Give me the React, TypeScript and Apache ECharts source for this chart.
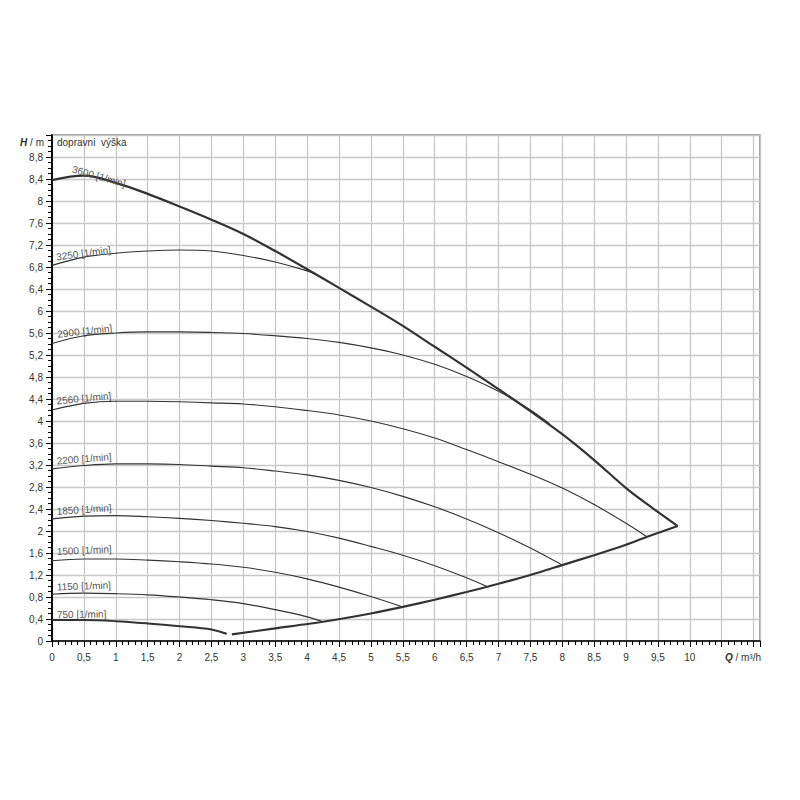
import React, { useEffect, useRef } from "react";
import * as echarts from "echarts";

// ---- data (Q in m³/h, H in m) ----
const speedLabels = ["3600 [1/min]", "3250 [1/min]", "2900 [1/min]", "2560 [1/min]", "2200 [1/min]", "1850 [1/min]", "1500 [1/min]", "1150 [1/min]", "750 [1/min]"];

const q3600 = [0, 0.5, 1, 1.5, 2, 2.5, 3, 3.5, 4, 4.5, 5, 5.5, 6, 6.5, 7, 7.5, 8, 8.5, 9, 9.4, 9.81];
const h3600 = [8.38, 8.46, 8.33, 8.13, 7.9, 7.66, 7.4, 7.09, 6.76, 6.42, 6.08, 5.73, 5.35, 4.97, 4.58, 4.18, 3.76, 3.29, 2.78, 2.43, 2.09];

const q3250 = [0, 0.5, 1, 1.5, 2, 2.5, 3, 3.5, 4, 4.15];
const h3250 = [6.83, 6.98, 7.05, 7.09, 7.11, 7.09, 7.01, 6.89, 6.73, 6.66];

const q2900 = [0, 0.5, 1, 1.5, 2, 2.5, 3, 3.5, 4, 4.5, 5, 5.5, 6, 6.5, 7, 7.5, 7.8];
const h2900 = [5.41, 5.55, 5.6, 5.62, 5.62, 5.61, 5.59, 5.55, 5.5, 5.43, 5.33, 5.2, 5.03, 4.81, 4.54, 4.2, 3.95];

const q2560 = [0, 0.5, 1, 1.5, 2, 2.5, 3, 3.5, 4, 4.5, 5, 5.5, 6, 6.5, 7, 7.5, 8, 8.5, 9, 9.32];
const h2560 = [4.2, 4.32, 4.36, 4.36, 4.35, 4.33, 4.31, 4.26, 4.19, 4.11, 4.0, 3.86, 3.69, 3.48, 3.26, 3.03, 2.78, 2.48, 2.14, 1.9];

const q2200 = [0, 0.5, 1, 1.5, 2, 2.5, 3, 3.5, 4, 4.5, 5, 5.5, 6, 6.5, 7, 7.5, 8.0];
const h2200 = [3.13, 3.19, 3.22, 3.22, 3.21, 3.18, 3.15, 3.09, 3.02, 2.92, 2.79, 2.63, 2.44, 2.22, 1.97, 1.69, 1.38];

const q1850 = [0, 0.5, 1, 1.5, 2, 2.5, 3, 3.5, 4, 4.5, 5, 5.5, 6, 6.5, 6.82];
const h1850 = [2.22, 2.27, 2.28, 2.26, 2.23, 2.19, 2.14, 2.08, 1.99, 1.87, 1.72, 1.56, 1.37, 1.15, 0.99];

const q1500 = [0, 0.5, 1, 1.5, 2, 2.5, 3, 3.5, 4, 4.5, 5, 5.5];
const h1500 = [1.46, 1.49, 1.49, 1.47, 1.44, 1.4, 1.34, 1.25, 1.13, 0.98, 0.81, 0.62];

const q1150 = [0, 0.5, 1, 1.5, 2, 2.5, 3, 3.5, 4, 4.25];
const h1150 = [0.85, 0.87, 0.86, 0.84, 0.8, 0.75, 0.68, 0.57, 0.44, 0.35];

const q750 = [0, 0.5, 1, 1.5, 2, 2.5, 2.74];
const h750 = [0.38, 0.38, 0.36, 0.32, 0.27, 0.21, 0.13];

const qLimit = [2.82, 3.5, 4.25, 5, 5.5, 6, 6.5, 7, 7.5, 8, 8.5, 9, 9.32, 9.81];
const hLimit = [0.12, 0.23, 0.35, 0.5, 0.62, 0.75, 0.89, 1.04, 1.2, 1.38, 1.56, 1.75, 1.89, 2.09];

const yAxisTitle = "H";
const yAxisUnit = " / m";
const xAxisTitle = "Q";
const xAxisUnit = " / m³/h";
const curveTitle = "dopravni  výška";

// ---- styles ----
const curveQ = [q3600, q3250, q2900, q2560, q2200, q1850, q1500, q1150, q750];
const curveH = [h3600, h3250, h2900, h2560, h2200, h1850, h1500, h1150, h750];
const curveWidth = [2.2, 1.1, 1.1, 1.1, 1.1, 1.1, 1.1, 1.2, 2];
// label offsets (px) from the curve start, and rotation (deg, + = anticlockwise)
const labelDx = [19, 5, 6, 5, 5, 5, 5, 5, 5];
const labelDy = [-8.4, -5.4, -6.2, -6, -4.9, -4.6, -6.2, -4.3, -2.4];
const labelRot = [-15.7, 7.7, 6.6, 5.8, 4.6, 3.9, 2.8, 2, 1];

const FONT = "Liberation Sans, Arial, sans-serif";
const fmt = (v: number) => String(Math.round(v * 10) / 10).replace(".", ",");

export default function App() {
  const ref = useRef<HTMLDivElement>(null);
  useEffect(() => {
    document.body.style.margin = "0";
    const chart = echarts.init(ref.current!, null, { renderer: "svg" });
    const lineColor = "#333333";
    const series: any[] = curveQ.map((qs, i) => ({
      type: "line",
      name: speedLabels[i],
      data: qs.map((q, j) => [q, curveH[i][j]]),
      showSymbol: false,
      symbol: "none",
      smooth: 0.35,
      lineStyle: { color: lineColor, width: curveWidth[i] },
      silent: true,
      z: i === 0 ? 5 : 3,
    }));
    series.push({
      type: "line",
      name: "limit",
      data: qLimit.map((q, j) => [q, hLimit[j]]),
      showSymbol: false,
      symbol: "none",
      smooth: 0.2,
      lineStyle: { color: lineColor, width: 2.2 },
      silent: true,
      z: 5,
    });

    const option: any = {
      animation: false,
      backgroundColor: "#ffffff",
      grid: {
        left: 52,
        top: 135,
        right: 40,
        bottom: 159,
        show: true,
        borderColor: "#808080",
        borderWidth: 1.5,
        containLabel: false,
      },
      xAxis: [
        {
          type: "value",
          min: 0,
          max: 11.1,
          interval: 0.5,
          axisLine: { show: true, onZero: false, lineStyle: { color: "#000", width: 1.5 } },
          axisTick: { show: true, length: 6, lineStyle: { color: "#000", width: 1 } },
          minorTick: { show: true, splitNumber: 5, length: 4, lineStyle: { color: "#000", width: 1 } },
          axisLabel: {
            margin: 11,
            fontSize: 10,
            fontFamily: FONT,
            color: "#333",
            formatter: (v: number) => (v > 10.01 ? "" : fmt(v)),
          },
          splitLine: { show: true, lineStyle: { color: "#c8c8c8", width: 1.3 } },
          minorSplitLine: { show: false },
        },
      ],
      yAxis: [
        {
          type: "value",
          min: 0,
          max: 9.2,
          interval: 0.4,
          axisLine: { show: true, onZero: false, lineStyle: { color: "#000", width: 1.5 } },
          axisTick: { show: true, length: 6, lineStyle: { color: "#000", width: 1 } },
          minorTick: { show: true, splitNumber: 4, length: 4, lineStyle: { color: "#000", width: 1 } },
          axisLabel: {
            margin: 9,
            fontSize: 10,
            fontFamily: FONT,
            color: "#333",
            formatter: (v: number) => (v > 8.81 ? "" : fmt(v)),
          },
          splitLine: { show: true, lineStyle: { color: "#c8c8c8", width: 1.3 } },
        },
        {
          type: "value",
          position: "right",
          min: 0,
          max: 9.2,
          axisLine: { show: true, lineStyle: { color: "#000", width: 1.5 } },
          axisTick: { show: false },
          axisLabel: { show: false },
          splitLine: { show: false },
        },
      ],
      series,
    };
    chart.setOption(option);

    const labels: any[] = curveQ.map((qs, i) => {
      const p = chart.convertToPixel({ gridIndex: 0 }, [qs[0], curveH[i][0]]) as number[];
      return {
        type: "text",
        x: p[0] + labelDx[i],
        y: p[1] + labelDy[i] + 2,
        rotation: (labelRot[i] * Math.PI) / 180,
        silent: true,
        z: 10,
        style: {
          text: speedLabels[i],
          fill: "#555",
          font: `10px ${FONT}`,
          align: "left",
          verticalAlign: "bottom",
        },
      };
    });
    const gridTop = chart.convertToPixel({ gridIndex: 0 }, [0, 9.2]) as number[];
    const xEnd = chart.convertToPixel({ gridIndex: 0 }, [11.1, 0]) as number[];
    labels.push({
      type: "text",
      x: gridTop[0] - 8,
      y: gridTop[1] + 7,
      silent: true,
      style: {
        text: `{i|${yAxisTitle}}{n|${yAxisUnit}}`,
        align: "right",
        verticalAlign: "middle",
        rich: {
          i: { fontStyle: "italic", fontSize: 10, fontFamily: FONT, fill: "#333", fontWeight: "bold" },
          n: { fontSize: 10, fontFamily: FONT, fill: "#333" },
        },
      },
    });
    labels.push({
      type: "text",
      x: gridTop[0] + 5,
      y: gridTop[1] + 7,
      silent: true,
      style: {
        text: curveTitle,
        fill: "#333",
        font: `10px ${FONT}`,
        align: "left",
        verticalAlign: "middle",
      },
    });
    labels.push({
      type: "text",
      x: xEnd[0] + 1,
      y: xEnd[1] + 16,
      silent: true,
      style: {
        text: `{i|${xAxisTitle}}{n|${xAxisUnit}}`,
        align: "right",
        verticalAlign: "middle",
        rich: {
          i: { fontStyle: "italic", fontSize: 10, fontFamily: FONT, fill: "#333", fontWeight: "bold" },
          n: { fontSize: 10, fontFamily: FONT, fill: "#333" },
        },
      },
    });
    chart.setOption({ graphic: labels });

    return () => chart.dispose();
  }, []);
  return <div ref={ref} style={{ width: 800, height: 800 }} />;
}
